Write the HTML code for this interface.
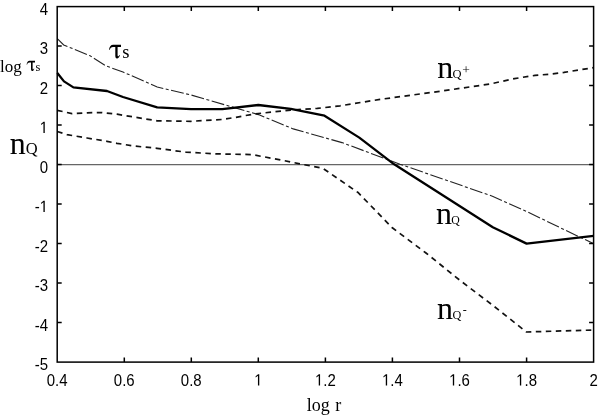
<!DOCTYPE html>
<html><head><meta charset="utf-8">
<style>
html,body{margin:0;padding:0;background:#fff;}
body{width:600px;height:415px;overflow:hidden;}
svg{display:block;will-change:transform;}
.s{font-family:"Liberation Sans",sans-serif;font-size:15px;fill:#000;}
.t{font-family:"Liberation Serif",serif;fill:#000;}
</style></head><body>
<svg width="600" height="415" viewBox="0 0 600 415">

<line x1="57.2" y1="164.6" x2="593.6" y2="164.6" stroke="#666" stroke-width="1.2"/>
<polyline points="57.3,38.7 63.7,45.0 89.7,55.6 106.0,65.9 123.0,72.0 157.2,87.0 191.0,95.0 258.4,114.6 293.2,128.9 342.0,142.6 400.0,164.2 493.0,196.4 526.6,211.5 560.0,227.6 593.3,243.5" fill="none" stroke="#222" stroke-width="1.1" stroke-dasharray="13 2.5 3 2.5"/>
<polyline points="57.2,110.3 72.0,113.7 87.0,112.8 102.0,112.5 117.0,114.2 132.0,116.7 157.0,120.8 191.0,121.3 222.0,119.5 236.0,117.3 254.7,113.9 290.8,110.1 317.3,108.4 340.0,105.8 380.0,99.4 440.0,91.3 490.4,83.9 514.5,78.6 535.0,75.4 552.0,74.0 564.0,72.4 593.6,67.6" fill="none" stroke="#111" stroke-width="1.7" stroke-dasharray="5.5 4.5"/>
<polyline points="57.2,131.5 67.0,134.6 87.0,138.0 107.0,141.3 117.0,143.3 132.0,145.8 157.0,148.3 186.0,152.2 217.5,153.9 252.0,154.6 281.0,160.0 300.0,163.9 322.9,168.3 358.0,192.5 392.0,227.5 426.0,253.0 459.5,280.0 493.0,305.5 526.4,332.0 593.6,330.0" fill="none" stroke="#111" stroke-width="1.7" stroke-dasharray="5.5 4.5"/>
<polyline points="57.3,73.0 64.0,81.4 73.4,87.4 107.0,91.0 123.0,97.0 157.2,107.3 191.0,109.2 222.3,109.2 258.3,105.0 290.8,108.9 324.5,115.7 359.3,137.6 394.2,164.3 440.0,193.5 492.8,227.3 526.6,243.6 593.6,235.9" fill="none" stroke="#000" stroke-width="2.3" stroke-linejoin="round"/>
<path d="M124.3,362.1v-4.5M124.3,6.6v4.5M191.3,362.1v-4.5M191.3,6.6v4.5M258.3,362.1v-4.5M258.3,6.6v4.5M325.4,362.1v-4.5M325.4,6.6v4.5M392.4,362.1v-4.5M392.4,6.6v4.5M459.5,362.1v-4.5M459.5,6.6v4.5M526.6,362.1v-4.5M526.6,6.6v4.5M57.2,322.6h4.5M593.6,322.6h-4.5M57.2,283.1h4.5M593.6,283.1h-4.5M57.2,243.6h4.5M593.6,243.6h-4.5M57.2,204.1h4.5M593.6,204.1h-4.5M57.2,164.6h4.5M593.6,164.6h-4.5M57.2,125.1h4.5M593.6,125.1h-4.5M57.2,85.6h4.5M593.6,85.6h-4.5M57.2,46.1h4.5M593.6,46.1h-4.5" stroke="#000" stroke-width="1.5" fill="none"/>
<rect x="57.2" y="6.6" width="536.4" height="355.5" fill="none" stroke="#000" stroke-width="1.5"/>
<g transform="matrix(1,0,0,1.09,0,-33.309)"><text class="s" x="34.66" y="370.10">-5</text></g>
<g transform="matrix(1,0,0,1.09,0,-29.754)"><text class="s" x="34.66" y="330.60">-4</text></g>
<g transform="matrix(1,0,0,1.09,0,-26.199)"><text class="s" x="34.66" y="291.10">-3</text></g>
<g transform="matrix(1,0,0,1.09,0,-22.644)"><text class="s" x="34.66" y="251.60">-2</text></g>
<g transform="matrix(1,0,0,1.09,0,-19.089)"><text class="s" x="34.66" y="212.10">-</text><path d="M515,0L515,1237L197,1010L197,1180L530,1409L696,1409L696,0Z" transform="translate(39.66,212.10) scale(0.007324,-0.007324)"/></g>
<g transform="matrix(1,0,0,1.09,0,-15.534)"><text class="s" x="39.66" y="172.60">0</text></g>
<g transform="matrix(1,0,0,1.09,0,-11.979)"><path d="M515,0L515,1237L197,1010L197,1180L530,1409L696,1409L696,0Z" transform="translate(39.66,133.10) scale(0.007324,-0.007324)"/></g>
<g transform="matrix(1,0,0,1.09,0,-8.424)"><text class="s" x="39.66" y="93.60">2</text></g>
<g transform="matrix(1,0,0,1.09,0,-4.869)"><text class="s" x="39.66" y="54.10">3</text></g>
<g transform="matrix(1,0,0,1.09,0,-1.314)"><text class="s" x="39.66" y="14.60">4</text></g>
<g transform="matrix(1,0,0,1.09,0,-34.704)"><text class="s" x="46.77" y="385.60">0.4</text></g>
<g transform="matrix(1,0,0,1.09,0,-34.704)"><text class="s" x="113.82" y="385.60">0.6</text></g>
<g transform="matrix(1,0,0,1.09,0,-34.704)"><text class="s" x="180.87" y="385.60">0.8</text></g>
<g transform="matrix(1,0,0,1.09,0,-34.704)"><path d="M515,0L515,1237L197,1010L197,1180L530,1409L696,1409L696,0Z" transform="translate(254.18,385.60) scale(0.007324,-0.007324)"/></g>
<g transform="matrix(1,0,0,1.09,0,-34.704)"><path d="M515,0L515,1237L197,1010L197,1180L530,1409L696,1409L696,0Z" transform="translate(314.97,385.60) scale(0.007324,-0.007324)"/><text class="s" x="323.32" y="385.60">.2</text></g>
<g transform="matrix(1,0,0,1.09,0,-34.704)"><path d="M515,0L515,1237L197,1010L197,1180L530,1409L696,1409L696,0Z" transform="translate(382.02,385.60) scale(0.007324,-0.007324)"/><text class="s" x="390.37" y="385.60">.4</text></g>
<g transform="matrix(1,0,0,1.09,0,-34.704)"><path d="M515,0L515,1237L197,1010L197,1180L530,1409L696,1409L696,0Z" transform="translate(449.07,385.60) scale(0.007324,-0.007324)"/><text class="s" x="457.42" y="385.60">.6</text></g>
<g transform="matrix(1,0,0,1.09,0,-34.704)"><path d="M515,0L515,1237L197,1010L197,1180L530,1409L696,1409L696,0Z" transform="translate(516.12,385.60) scale(0.007324,-0.007324)"/><text class="s" x="524.47" y="385.60">.8</text></g>
<g transform="matrix(1,0,0,1.09,0,-34.704)"><text class="s" x="589.43" y="385.60">2</text></g>
<text class="t" x="306.8" y="411" font-size="18" word-spacing="1">log r</text>
<g fill="#000" transform="translate(109.0,44.8)"><path d="M0,4.8 C0.6,2.0 1.9,0 4.2,0 L12,0 L12,2.2 L8.6,2.2 L8.6,10.2 C8.6,11.6 9.2,11.8 9.8,11.2 L10.4,10.2 L11,10.5 C10.4,12.4 9.3,13.6 8,13.6 C6.8,13.6 6.3,12.6 6.3,11 L6.3,2.2 L4,2.2 C2.4,2.2 1.2,3.2 0.6,5.1 Z"/></g>
<g fill="#000" transform="translate(26.6,60.8) scale(0.7,0.75)"><path d="M0,4.8 C0.6,2.0 1.9,0 4.2,0 L12,0 L12,2.2 L8.6,2.2 L8.6,10.2 C8.6,11.6 9.2,11.8 9.8,11.2 L10.4,10.2 L11,10.5 C10.4,12.4 9.3,13.6 8,13.6 C6.8,13.6 6.3,12.6 6.3,11 L6.3,2.2 L4,2.2 C2.4,2.2 1.2,3.2 0.6,5.1 Z"/></g>
<text class="t" x="0" y="71.5" font-size="17">log</text>
<text class="t" x="35.6" y="71.3" font-size="12.5">s</text>
<text class="t" x="122.3" y="57.8" font-size="18.5">s</text>
<text class="t" x="437.2" y="77.7" font-size="32">n<tspan font-size="12.5" dx="-0.7">Q</tspan><tspan font-size="13.5" dx="0.8" dy="-4">+</tspan></text>
<text class="t" x="436" y="224.2" font-size="32">n<tspan font-size="11.8" dx="-0.7">Q</tspan></text>
<text class="t" x="436.9" y="319.3" font-size="32">n<tspan font-size="12.2" dx="-0.5">Q</tspan><tspan font-size="12" dx="1.5" dy="-5">-</tspan></text>
<text class="t" x="9.8" y="154.2" font-size="32">n<tspan font-size="16.5">Q</tspan></text>
</svg></body></html>
